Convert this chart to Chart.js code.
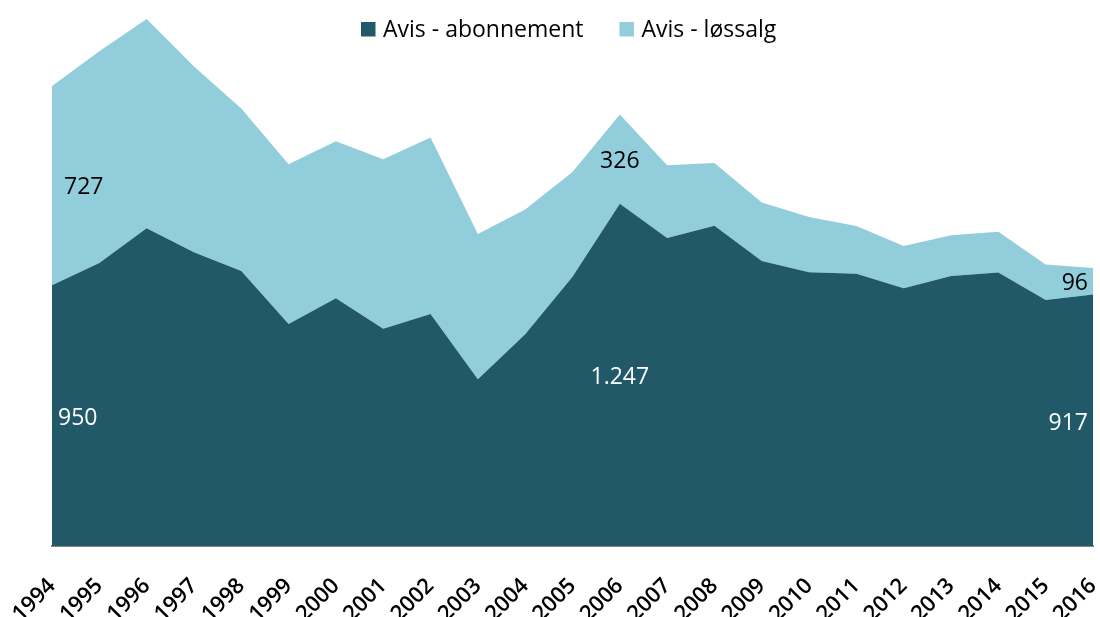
<!DOCTYPE html>
<html>
<head>
<meta charset="utf-8">
<script src="https://cdn.jsdelivr.net/npm/chart.js@4/dist/chart.umd.min.js"></script>
<style>
  body { margin: 0; background: #fff; }
  canvas { display: block; }
</style>
</head>
<body>
<canvas id="myAreaChart" width="1100" height="617"></canvas>
<script>
const years = ['1994', '1995', '1996', '1997', '1998', '1999', '2000', '2001', '2002', '2003', '2004', '2005',
    '2006', '2007', '2008', '2009', '2010', '2011', '2012', '2013', '2014', '2015', '2016'];
const abonnement = [950, 1031, 1158, 1071, 1002, 809, 903, 792, 846, 608, 772, 981,
    1247, 1123, 1167, 1039, 998, 992, 939, 984, 997, 897, 917];
const lossalg = [727, 772, 763, 677, 593, 582, 572, 618, 643, 529, 454, 382,
    326, 265, 229, 213, 201, 174, 154, 149, 148, 129, 96];
const labelYears = ['1994', '2006', '2016'];

const darkColor = '#215968';
const lightColor = '#92cddc';
const fontFamily = '"Open Sans", sans-serif';

function formatNo(v) {
    return String(v).replace(/\B(?=(\d{3})+(?!\d))/g, '.');
}

// legend drawn on top of the plot, Excel style
const legendPlugin = {
    id: 'topLegend',
    afterDraw(chart) {
        const ctx = chart.ctx;
        ctx.save();
        ctx.font = '23px ' + fontFamily;
        ctx.textBaseline = 'alphabetic';
        let x = 361;
        chart.data.datasets.forEach(ds => {
            ctx.fillStyle = ds.backgroundColor;
            ctx.fillRect(x, 22, 14.5, 14.5);
            ctx.fillStyle = '#000';
            ctx.fillText(ds.label, x + 22, 37);
            x += 22 + ctx.measureText(ds.label).width + 36;
        });
        ctx.restore();
    }
};

// value labels centred in each band
const valueLabels = {
    id: 'valueLabels',
    afterDatasetsDraw(chart) {
        const ctx = chart.ctx;
        const base = chart.scales.y.getPixelForValue(0);
        const last = years.length - 1;
        ctx.save();
        ctx.font = '23px ' + fontFamily;
        ctx.textBaseline = 'middle';
        labelYears.forEach(year => {
            const i = years.indexOf(year);
            const x0 = chart.getDatasetMeta(0).data[i].x;
            const yA = chart.getDatasetMeta(0).data[i].y;
            const yL = chart.getDatasetMeta(1).data[i].y;
            let x = x0;
            ctx.textAlign = 'center';
            if (i === 0) { ctx.textAlign = 'left'; x = x0 + 6; }
            if (i === last) { ctx.textAlign = 'right'; x = x0 - 5; }
            ctx.fillStyle = '#fff';
            ctx.fillText(formatNo(abonnement[i]), x, (base + yA) / 2 + 3);
            ctx.fillStyle = '#000';
            ctx.fillText(formatNo(lossalg[i]), i === 0 ? x + 6 : x, (yA + yL) / 2 + 2);
        });
        ctx.restore();
    }
};

const config = {
    type: 'line',
    data: {
        labels: years,
        datasets: [{
            label: 'Avis - abonnement',
            data: abonnement,
            backgroundColor: darkColor,
            borderWidth: 0,
            pointRadius: 0,
            fill: 'origin',
            tension: 0
        }, {
            label: 'Avis - løssalg',
            data: lossalg,
            backgroundColor: lightColor,
            borderWidth: 0,
            pointRadius: 0,
            fill: '-1',
            tension: 0
        }]
    },
    options: {
        responsive: false,
        animation: false,
        layout: { padding: { left: 52, right: 7, top: 0, bottom: 0 } },
        plugins: {
            legend: { display: false },
            tooltip: { enabled: false }
        },
        scales: {
            x: {
                grid: { display: false },
                border: { display: true, color: '#878787', width: 2 },
                ticks: {
                    autoSkip: false,
                    maxRotation: 45,
                    minRotation: 45,
                    padding: 19,
                    color: '#000',
                    font: { family: fontFamily, size: 22, weight: '600' }
                },
                afterFit(scale) {
                    scale.height = 71;
                    scale.paddingLeft = 0;
                    scale.paddingRight = 0;
                }
            },
            y: {
                display: false,
                stacked: true,
                min: 0,
                max: 1990
            }
        }
    },
    plugins: [legendPlugin, valueLabels]
};

new Chart(document.querySelector('#myAreaChart'), config);
</script>
</body>
</html>
